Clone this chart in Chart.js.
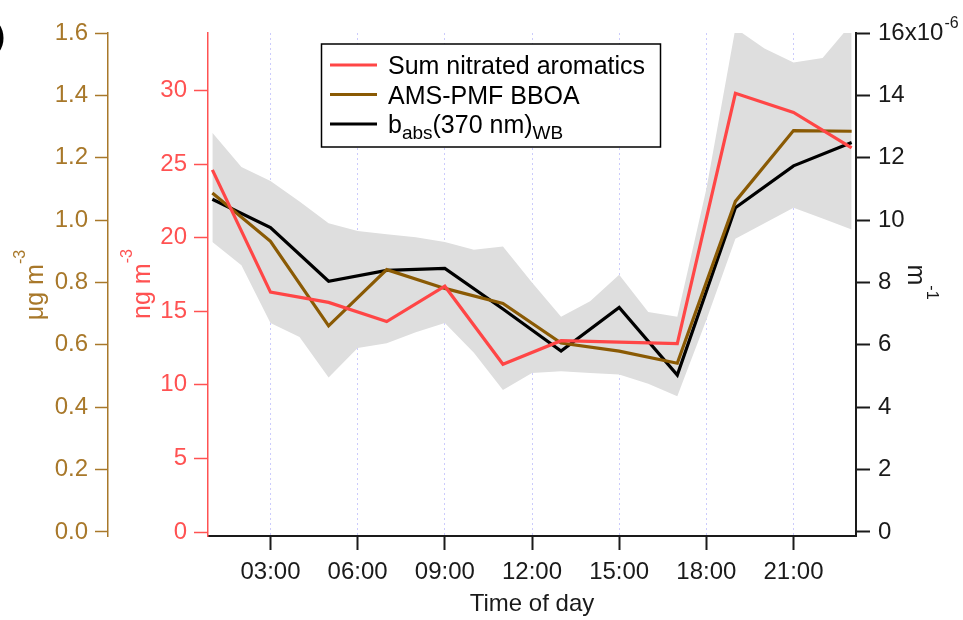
<!DOCTYPE html>
<html>
<head>
<meta charset="utf-8">
<script src="https://cdn.jsdelivr.net/npm/chart.js@4.4.1/dist/chart.umd.min.js"></script>
<style>
  html, body { margin: 0; padding: 0; background: #fff; }
</style>
</head>
<body>
<canvas id="myChart" width="963" height="620"></canvas>
<script>
// diurnal cycle, 2 h bins (hour of day)
let hours = [1, 3, 5, 7, 9, 11, 13, 15, 17, 19, 21, 23];
let nitroAromatics = [24.6, 16.3, 15.6, 14.3, 16.7, 11.4, 13.0, 12.9, 12.8, 29.8, 28.5, 26.1]; // ng m-3
let bboa = [1.087, 0.932, 0.661, 0.841, 0.781, 0.733, 0.606, 0.580, 0.541, 1.060, 1.287, 1.285]; // ug m-3
let babs370 = [10.67, 9.76, 8.04, 8.39, 8.45, 7.15, 5.8, 7.2, 5.03, 10.4, 11.74, 12.49]; // x10^-6 m-1

// grey range band (hourly), in 10^-6 m-1
let bandHours = [1, 2, 3, 4, 5, 6, 7, 8, 9, 10, 11, 12, 13, 14, 15, 16, 17, 18, 19, 20, 21, 22, 23];
let bandUpper = [12.8, 11.7, 11.25, 10.6, 9.9, 9.65, 9.55, 9.45, 9.3, 9.05, 9.15, 8.0, 6.9, 7.4, 8.25, 7.05, 6.9, 11.0, 16.15, 15.5, 15.05, 15.2, 16.3];
let bandLower = [9.3, 8.55, 6.7, 6.25, 4.95, 5.9, 6.05, 6.4, 6.7, 5.75, 4.55, 5.1, 5.15, 5.1, 5.05, 4.75, 4.35, 6.8, 9.4, 9.9, 10.4, 10.05, 9.7];

let hourTicks = [3, 6, 9, 12, 15, 18, 21];
let ngTicks = [0, 5, 10, 15, 20, 25, 30];
let ugTicks = [0, 0.2, 0.4, 0.6, 0.8, 1.0, 1.2, 1.4, 1.6];
let babsTicks = [0, 2, 4, 6, 8, 10, 12, 14, 16];

const FONT = "Arial, 'Liberation Sans', sans-serif";
const TICK = 24;
const red = '#ff4646';
const redAxis = '#ff5252';
const brown = '#8a5a04';
const brownAxis = '#a8782a';
const ink = '#1a1a1a';

Chart.defaults.font.family = FONT;

const pts = (xs, ys) => xs.map((x, i) => ({x: x, y: ys[i]}));
const setTicks = (arr) => (scale) => { scale.ticks = arr.map(v => ({value: v})); };

// draws text pieces with sub/superscripts, returns width
function richText(ctx, parts, x, y, size, draw) {
  let cx = x;
  parts.forEach(([t, kind]) => {
    let fs = size, dy = 0;
    if (kind === 'sup') { fs = Math.round(size * 0.64); dy = -size * 0.74; }
    if (kind === 'sub') { fs = Math.round(size * 0.74); dy = size * 0.24; }
    ctx.font = fs + 'px ' + FONT;
    if (draw) ctx.fillText(t, cx, y + dy);
    cx += ctx.measureText(t).width;
  });
  return cx - x;
}

function rotatedTitle(ctx, parts, x, yMid, angle, color) {
  ctx.save();
  ctx.fillStyle = color;
  ctx.textBaseline = 'alphabetic';
  ctx.textAlign = 'left';
  let w = richText(ctx, parts, 0, 0, 25, false);
  ctx.translate(x, yMid);
  ctx.rotate(angle);
  richText(ctx, parts, -w / 2, 0, 25, true);
  ctx.restore();
}

const extras = {
  id: 'extras',
  afterDraw(chart) {
    const ctx = chart.ctx;

    // axis titles
    rotatedTitle(ctx, [['μg m', ''], ['-3', 'sup']], 43, 285, -Math.PI / 2, brownAxis);
    rotatedTitle(ctx, [['ng m', ''], ['-3', 'sup']], 150, 284, -Math.PI / 2, redAxis);
    rotatedTitle(ctx, [['m', ''], ['-1', 'sup']], 908, 282, Math.PI / 2, ink);

    // exponent on top right tick
    const yB = chart.scales.yB;
    ctx.save();
    ctx.font = TICK + 'px ' + FONT;
    let x0 = yB.left + 14 + 8 + ctx.measureText('16x10').width + 1;
    ctx.font = '16px ' + FONT;
    ctx.fillStyle = ink;
    ctx.textBaseline = 'alphabetic';
    ctx.fillText('-6', x0, yB.getPixelForValue(16) - 5);
    ctx.restore();

    // panel letter, mostly cut off
    ctx.save();
    ctx.font = 'bold 30px ' + FONT;
    ctx.fillStyle = '#000';
    ctx.textAlign = 'right';
    ctx.textBaseline = 'alphabetic';
    ctx.fillText('b)', 5, 46);
    ctx.restore();

    // legend
    ctx.save();
    ctx.strokeStyle = '#000';
    ctx.lineWidth = 1.5;
    ctx.fillStyle = '#fff';
    ctx.fillRect(321.5, 44, 339, 103);
    ctx.strokeRect(321.5, 44, 339, 103);
    const rows = [
      {color: red, parts: [[chart.data.datasets[0].label, '']]},
      {color: brown, parts: [[chart.data.datasets[1].label, '']]},
      {color: '#000', parts: [['b', ''], ['abs', 'sub'], ['(370 nm)', ''], ['WB', 'sub']]}
    ];
    rows.forEach((r, i) => {
      const y = 65 + i * 29.5;
      ctx.strokeStyle = r.color;
      ctx.lineWidth = 3;
      ctx.beginPath();
      ctx.moveTo(330, y);
      ctx.lineTo(377, y);
      ctx.stroke();
      ctx.fillStyle = '#000';
      ctx.textBaseline = 'alphabetic';
      richText(ctx, r.parts, 388, y + 9, 25, true);
    });
    ctx.restore();
  }
};

let ctx = document.getElementById('myChart').getContext('2d');

let myChart = new Chart(ctx, {
  type: 'line',
  data: {
    datasets: [
      {
        label: 'Sum nitrated aromatics',
        data: pts(hours, nitroAromatics),
        yAxisID: 'yR',
        borderColor: red,
        borderWidth: 3.2,
        pointRadius: 0,
        fill: false
      },
      {
        label: 'AMS-PMF BBOA',
        data: pts(hours, bboa),
        yAxisID: 'yG',
        borderColor: brown,
        borderWidth: 3.2,
        pointRadius: 0,
        fill: false
      },
      {
        label: 'babs(370 nm)WB',
        data: pts(hours, babs370),
        yAxisID: 'yB',
        borderColor: '#000',
        borderWidth: 3.2,
        pointRadius: 0,
        fill: false
      },
      {
        label: 'upper',
        data: pts(bandHours, bandUpper),
        yAxisID: 'yB',
        borderWidth: 0,
        borderColor: 'rgba(0,0,0,0)',
        backgroundColor: '#dedede',
        pointRadius: 0,
        fill: '+1'
      },
      {
        label: 'lower',
        data: pts(bandHours, bandLower),
        yAxisID: 'yB',
        borderWidth: 0,
        borderColor: 'rgba(0,0,0,0)',
        pointRadius: 0,
        fill: false
      }
    ]
  },
  options: {
    responsive: false,
    animation: false,
    devicePixelRatio: 1,
    layout: { padding: { top: 33, left: 0, right: 0, bottom: 0 } },
    plugins: {
      legend: { display: false },
      tooltip: { enabled: false }
    },
    scales: {
      x: {
        type: 'linear',
        position: 'bottom',
        min: 0.85,
        max: 23.15,
        afterBuildTicks: setTicks(hourTicks),
        afterFit: (s) => { s.height = 84; },
        ticks: {
          color: ink,
          font: { size: TICK },
          padding: 8,
          maxRotation: 0,
          callback: (v) => String(v).padStart(2, '0') + ':00'
        },
        grid: {
          color: 'rgba(160,160,250,0.55)',
          lineWidth: 1,
          tickColor: ink,
          tickWidth: 2,
          tickLength: 14,
          tickBorderDash: []
        },
        border: { color: ink, width: 2, dash: [2, 3] },
        title: {
          display: true,
          text: 'Time of day',
          color: ink,
          font: { size: TICK },
          padding: { top: 0, bottom: 1 }
        }
      },
      yR: {
        type: 'linear',
        position: 'left',
        weight: 0,
        min: -0.27,
        max: 33.9,
        afterBuildTicks: setTicks(ngTicks),
        afterFit: (s) => { s.width = 100; },
        ticks: { color: redAxis, font: { size: TICK }, padding: 7 },
        grid: { drawOnChartArea: false, tickColor: redAxis, tickLength: 14, tickWidth: 1.5 },
        border: { color: redAxis, width: 1.5 }
      },
      yG: {
        type: 'linear',
        position: 'left',
        weight: 1,
        min: -0.013,
        max: 1.6,
        afterBuildTicks: setTicks(ugTicks),
        afterFit: (s) => { s.width = 108; },
        ticks: { color: brownAxis, font: { size: TICK }, padding: 7, callback: (v) => v.toFixed(1) },
        grid: { drawOnChartArea: false, tickColor: brownAxis, tickLength: 13, tickWidth: 1.5 },
        border: { color: brownAxis, width: 1.5 }
      },
      yB: {
        type: 'linear',
        position: 'right',
        min: -0.13,
        max: 16,
        afterBuildTicks: setTicks(babsTicks),
        afterFit: (s) => { s.width = 107; },
        ticks: { color: ink, font: { size: TICK }, padding: 8, callback: (v) => (v === 16 ? '16x10' : v) },
        grid: { drawOnChartArea: false, tickColor: ink, tickLength: 14, tickWidth: 2 },
        border: { color: ink, width: 2 }
      }
    }
  },
  plugins: [extras]
});
</script>
</body>
</html>
